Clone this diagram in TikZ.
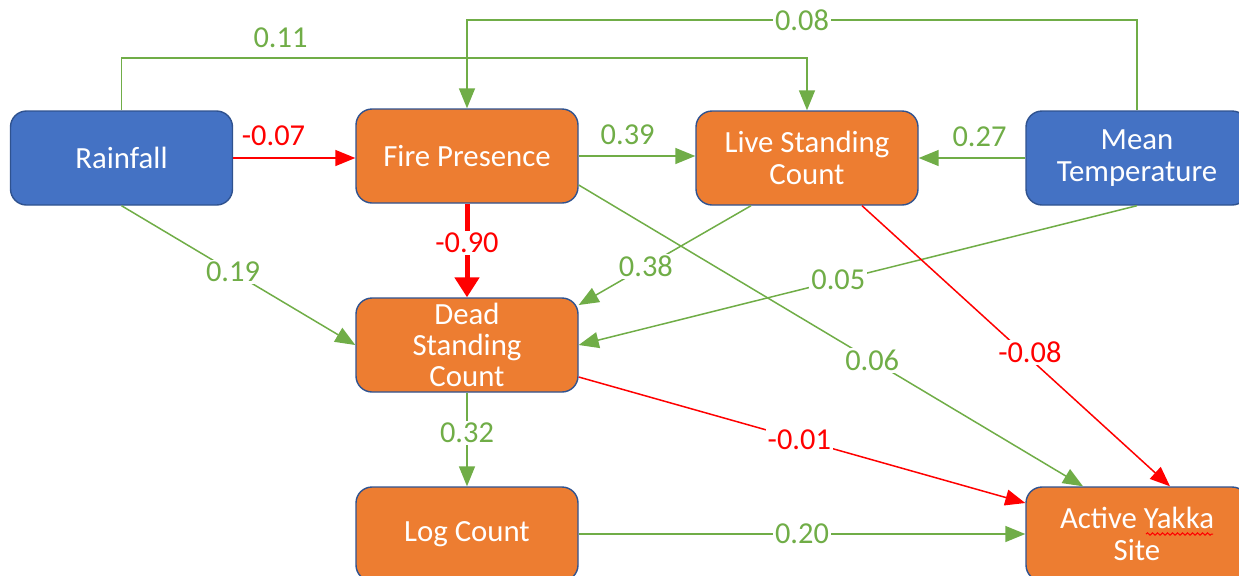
\documentclass[tikz,border=0pt]{standalone}
\usepackage{fontspec}
\setmainfont{Carlito}
\usetikzlibrary{arrows.meta,decorations.pathmorphing}
\definecolor{cblue}{HTML}{4472C4}
\definecolor{corange}{HTML}{ED7D31}
\definecolor{cborder}{HTML}{2F528F}
\definecolor{cgreen}{HTML}{70AD47}
\definecolor{cred}{HTML}{FF0000}
\begin{document}
\begin{tikzpicture}[x=0.5pt,y=-0.5pt,
  box/.style={draw=cborder, line width=0.7pt, rounded corners=8pt, minimum width=111pt, minimum height=47pt, text=white, align=center, font=\fontsize{15.4}{15.7}\selectfont, inner sep=0pt},
  bluebox/.style={box, fill=cblue},
  orangebox/.style={box, fill=corange},
  garrow/.style={draw=cgreen, line width=0.75pt, -{Triangle[length=10pt,width=8pt]}},
  rarrow/.style={draw=cred, line width=0.75pt, -{Triangle[length=10pt,width=8pt]}},
  glab/.style={text=cgreen, font=\fontsize{15.2}{16}\selectfont, inner sep=1pt},
  rlab/.style={text=cred, font=\fontsize{15.2}{16}\selectfont, inner sep=1pt},
  onl/.style={fill=white}
]
\useasboundingbox (0,0) rectangle (1239,575);
\clip (0,0) rectangle (1239,575);

\node[bluebox] (rain) at (121.5,158) {Rainfall};
\node[orangebox] (fire) at (467,156) {Fire Presence};
\node[orangebox] (live) at (807,158) {Live Standing\\Count};
\node[bluebox] (mt) at (1137,158) {Mean\\Temperature};
\node[orangebox] (dead) at (467,345) {Dead\\Standing\\Count};
\node[orangebox] (log) at (467,534) {Log Count};
\node[orangebox] (ay) at (1137,534) {Active Yakka\\Site};

\draw[cred, line width=0.5pt, decorate, decoration={snake, amplitude=0.6pt, segment length=2.5pt}] (1146,534) -- (1213,534);

\coordinate (tq) at (121.5,58);
\coordinate (tp) at (467,20);
\draw[garrow] (rain.north) -- (rain.north |- tq) -| node[glab,pos=0.116,yshift=10pt]{0.11} (live.north);
\draw[garrow] (mt.north) |- node[glab,onl,pos=0.75]{0.08} (tp) -- (fire.north);

\draw[rarrow] (rain.east) -- node[rlab,pos=0.33,yshift=11pt]{-0.07} (rain.east -| fire.west);
\draw[garrow] (fire.east) -- node[glab,pos=0.42,yshift=10.5pt]{0.39} (fire.east -| live.west);
\draw[garrow] (mt.west) -- node[glab,pos=0.43,yshift=10.5pt]{0.27} (mt.west -| live.east);

\draw[draw=cred, line width=2.5pt, -{Triangle[length=10pt,width=12pt]}] (fire.south) -- node[rlab,onl,pos=0.42]{-0.90} (dead.north);

\draw[garrow] (rain.south) -- node[glab,onl,pos=0.477]{0.19} (dead.west);
\draw[garrow] ([xshift=-28pt]live.south) -- node[glab,onl,pos=0.61]{0.38} ([yshift=20pt]dead.east);
\draw[garrow] (mt.south) -- node[glab,onl,pos=0.535]{0.05} (dead.east);
\draw[garrow] ([yshift=-14.5pt]fire.east) -- node[glab,onl,pos=0.582]{0.06} ([xshift=-27pt]ay.north);
\draw[rarrow] ([xshift=27.5pt]live.south) -- node[rlab,onl,pos=0.545,yshift=3pt]{-0.08} ([xshift=16.5pt]ay.north);
\draw[rarrow] ([yshift=-16pt]dead.east) -- node[rlab,onl,pos=0.494]{-0.01} ([yshift=15.5pt]ay.west);
\draw[garrow] (dead.south) -- node[glab,onl,pos=0.43]{0.32} (log.north);
\draw[garrow] (log.east) -- node[glab,onl]{0.20} (ay.west);
\end{tikzpicture}
\end{document}
